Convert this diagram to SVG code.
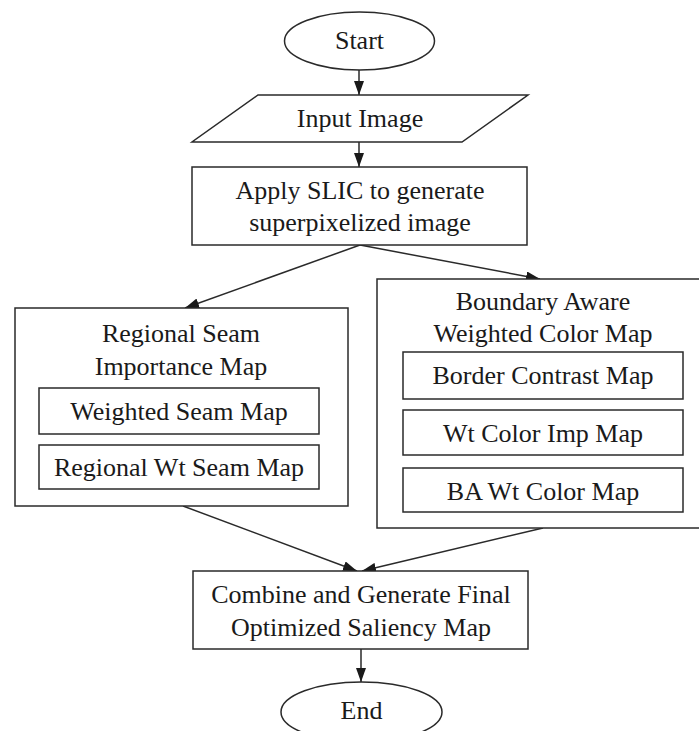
<svg xmlns="http://www.w3.org/2000/svg" width="699" height="731" viewBox="0 0 699 731">
<style>
.s{fill:#fff;stroke:#2a2a2a;stroke-width:1.5}
.c{fill:none;stroke:#2a2a2a;stroke-width:1.5}
.t{font-size:26px;fill:#1a1a1a;text-anchor:middle}
</style>
<defs>
<marker id="ah" viewBox="0 0 14 10" refX="14" refY="5" markerWidth="14" markerHeight="10" markerUnits="userSpaceOnUse" orient="auto">
<path d="M0,0 L14,5 L0,10 z" fill="#1a1a1a"/>
</marker>
</defs>
<rect width="699" height="731" fill="#fff"/>
<g id="connectors">
<line class="c" x1="359" y1="70" x2="359" y2="95" marker-end="url(#ah)"/>
<line class="c" x1="359" y1="142" x2="359" y2="167" marker-end="url(#ah)"/>
<line class="c" x1="360" y1="245" x2="185" y2="308" marker-end="url(#ah)"/>
<line class="c" x1="360" y1="245" x2="540" y2="279" marker-end="url(#ah)"/>
<line class="c" x1="183" y1="506" x2="357" y2="571" marker-end="url(#ah)"/>
<line class="c" x1="543" y1="528" x2="362" y2="571" marker-end="url(#ah)"/>
<line class="c" x1="361" y1="649" x2="361" y2="682" marker-end="url(#ah)"/>
</g>
<g font-family="'Liberation Serif', 'Times New Roman', serif" class="t">
<g id="start">
<ellipse class="s" cx="359.5" cy="41" rx="75" ry="29"/>
<text x="359.5" y="49">Start</text>
</g>
<g id="input">
<polygon class="s" points="258,95 528,95 462,142 192,142"/>
<text x="360" y="127">Input Image</text>
</g>
<g id="slic">
<rect class="s" x="192" y="167" width="335" height="78"/>
<text x="360" y="199">Apply SLIC to generate</text>
<text x="360" y="231">superpixelized image</text>
</g>
<g id="regional">
<rect class="s" x="15" y="308" width="333" height="198"/>
<text x="181" y="342">Regional Seam</text>
<text x="181" y="375">Importance Map</text>
</g>
<g id="weighted-seam">
<rect class="s" x="39" y="388" width="280" height="46"/>
<text x="179" y="420">Weighted Seam Map</text>
</g>
<g id="regional-wt">
<rect class="s" x="39" y="445" width="280" height="44"/>
<text x="179" y="476">Regional Wt Seam Map</text>
</g>
<g id="boundary">
<rect class="s" x="377" y="279" width="330" height="249"/>
<text x="543" y="310">Boundary Aware</text>
<text x="543" y="342">Weighted Color Map</text>
</g>
<g id="border-contrast">
<rect class="s" x="403" y="352" width="280" height="47"/>
<text x="543" y="384">Border Contrast Map</text>
</g>
<g id="wt-color-imp">
<rect class="s" x="403" y="410" width="280" height="45"/>
<text x="543" y="442">Wt Color Imp Map</text>
</g>
<g id="ba-wt-color">
<rect class="s" x="403" y="468" width="280" height="44"/>
<text x="543" y="500">BA Wt Color Map</text>
</g>
<g id="combine">
<rect class="s" x="193" y="571" width="335" height="78"/>
<text x="361" y="603">Combine and Generate Final</text>
<text x="361" y="636">Optimized Saliency Map</text>
</g>
<g id="end">
<ellipse class="s" cx="361.5" cy="712" rx="80.5" ry="30"/>
<text x="361.5" y="719">End</text>
</g>
</g>
</svg>
